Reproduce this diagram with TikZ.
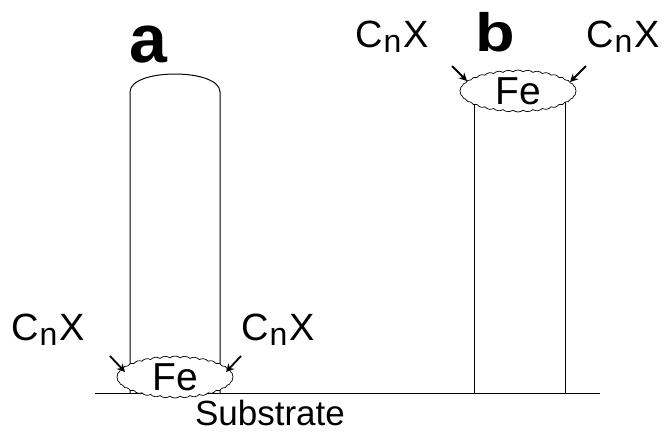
\documentclass[tikz,border=0pt]{standalone}
\usepackage{fontspec}
\setmainfont{Liberation Sans}
\usetikzlibrary{calc, arrows.meta, shapes.symbols}
\newcommand{\cnLabel}{C\kern1pt\raisebox{-5pt}{\fontsize{32}{32}\selectfont n}\kern2pt X}

\begin{document}
\begin{tikzpicture}[x=1pt, y=-1pt,
  tube/.style={line width=1pt},
  blob/.style={cloud, cloud puffs=36, cloud puff arc=80, aspect=3, draw, fill=white, line width=0.7pt, minimum width=100pt, minimum height=34pt, inner sep=0pt, font=\fontsize{39}{40}\selectfont},
  lbl/.style={font=\fontsize{38}{40}\selectfont, inner sep=0pt},
  tag/.style={font=\bfseries\fontsize{68}{70}\selectfont, inner sep=0pt},
  arr/.style={-{Stealth[length=8pt, width=8pt]}, line width=1.8pt}]
  \useasboundingbox (0,0) rectangle (665,432);
  % substrate
  \coordinate (subL) at (95,393);
  \coordinate (subR) at (600,393);
  \draw[tube] (subL) -- (subR);
  \node[lbl, font=\fontsize{35}{40}\selectfont] (substrate) at (270,413) {Substrate};

  % tube a, catalyst at the base
  \draw[tube] (130,393) -- (130,92) .. controls (130,68) and (220,68) .. (220,92) -- (220,393);
  \node[tag] (tagA) at (148,45) {a};
  \node[blob] (feA) at (175,377) {Fe};
  \node[lbl] (cnA1) at (48,330) {\cnLabel};
  \node[lbl] (cnA2) at (278,330) {\cnLabel};
  \coordinate (aA1) at (110,356);
  \coordinate (aA2) at (241,356);
  \draw[arr] (aA1) -- ($(feA)+(-50,-5)$);
  \draw[arr] (aA2) -- ($(feA)+(51,-5)$);

  % tube b, catalyst on top
  \draw[tube] (474,393) -- (474,98);
  \draw[tube] (565,393) -- (565,98);
  \node[blob] (feB) at (518,91) {Fe};
  \node[tag, font=\bfseries\fontsize{54}{60}\selectfont, xscale=1.2] (tagB) at (495,32) {b};
  \node[lbl] (cnB1) at (392,37) {\cnLabel};
  \node[lbl] (cnB2) at (623,37) {\cnLabel};
  \coordinate (aB1) at (452,66);
  \coordinate (aB2) at (586,66);
  \draw[arr] (aB1) -- ($(feB)+(-51,-10)$);
  \draw[arr] (aB2) -- ($(feB)+(52,-9)$);
\end{tikzpicture}
\end{document}
